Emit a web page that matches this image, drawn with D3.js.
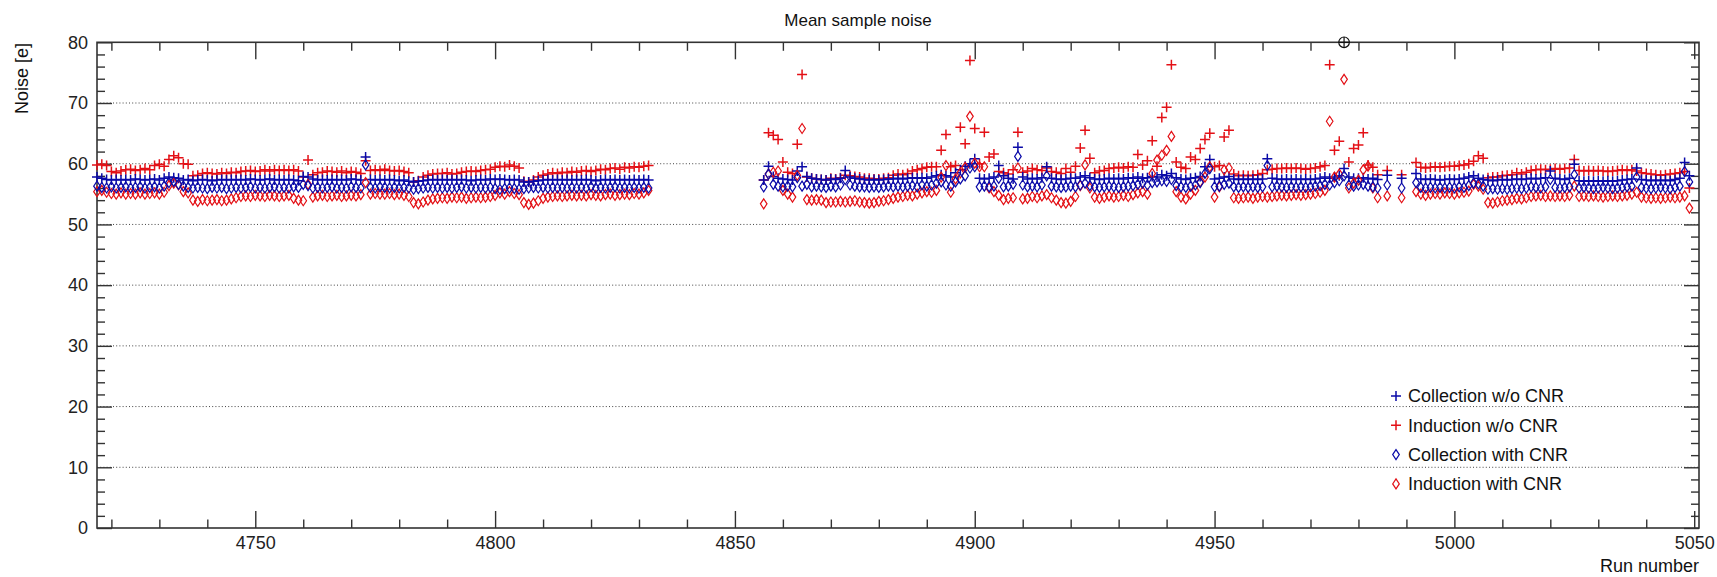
<!DOCTYPE html>
<html>
<head>
<meta charset="utf-8">
<script src="https://cdn.jsdelivr.net/npm/d3@7"></script>
<style>
  body { margin: 0; background: #fff; }
  svg { display: block; font-family: "Liberation Sans", Arial, sans-serif; }
</style>
</head>
<body>
<svg id="chart" width="1717" height="577"></svg>
<script>
// run blocks [first, last] that have data
var runBlocks = [[4717, 4832], [4856, 4984], [4986, 4986], [4989, 4989], [4992, 5049]];

var colNoCnr = [
  // 4717-4832
  57.8, 57.6, 57.4, 57.3, 57.4, 57.3, 57.4, 57.3, 57.5, 57.4,
  57.3, 57.4, 57.5, 57.3, 57.6, 57.8, 57.7, 57.6, 57.3, 57.4,
  57.2, 57.3, 57.4, 57.3, 57.2, 57.3, 57.4, 57.3, 57.4, 57.3,
  57.4, 57.3, 57.5, 57.4, 57.3, 57.4, 57.5, 57.3, 57.4, 57.3,
  57.4, 57.3, 57.2, 57.9, 57.8, 57.5, 57.3, 57.4, 57.3, 57.4,
  57.3, 57.4, 57.3, 57.5, 57.4, 57.3, 61.1, 57.4, 57.3, 57.4,
  57.3, 57.4, 57.3, 57.2, 57.3, 57.1, 57.0, 57.1, 57.2, 57.3,
  57.4, 57.3, 57.4, 57.3, 57.4, 57.3, 57.4, 57.3, 57.2, 57.3,
  57.4, 57.3, 57.5, 57.4, 57.5, 57.4, 57.3, 57.4, 57.3, 57.0,
  57.0, 57.1, 57.2, 57.3, 57.4, 57.3, 57.4, 57.3, 57.4, 57.3,
  57.4, 57.3, 57.4, 57.3, 57.2, 57.3, 57.4, 57.3, 57.4, 57.3,
  57.4, 57.3, 57.4, 57.3, 57.4, 57.3,
  // 4856-4984
  57.3, 59.6, 57.9, 57.6, 57.5, 57.4, 57.3, 58.8, 59.5, 57.9,
  57.6, 57.5, 57.4, 57.3, 57.5, 57.4, 57.6, 58.9, 57.8, 57.6,
  57.5, 57.4, 57.3, 57.4, 57.3, 57.4, 57.5, 57.5, 57.6, 57.5,
  57.6, 57.7, 57.6, 57.7, 57.6, 57.8, 58.0, 58.2, 58.0, 57.8,
  58.5, 59.0, 59.6, 60.0, 60.8, 57.6, 57.5, 57.6, 57.8, 59.7,
  58.0, 57.6, 57.5, 62.7, 57.8, 57.5, 57.6, 57.5, 57.7, 59.5,
  57.6, 57.5, 57.4, 57.5, 57.6, 57.6, 57.8, 58.0, 57.7, 57.5,
  57.4, 57.5, 57.6, 57.5, 57.6, 57.5, 57.7, 57.6, 57.8, 57.6,
  57.7, 57.9, 57.8, 58.2, 58.0, 58.4, 57.7, 57.5, 57.4, 57.6,
  57.7, 57.9, 59.5, 60.7, 57.5, 57.6, 57.8, 57.9, 57.5, 57.4,
  57.5, 57.4, 57.5, 57.4, 57.5, 60.8, 57.6, 57.5, 57.4, 57.5,
  57.4, 57.5, 57.4, 57.5, 57.4, 57.5, 57.6, 57.8, 57.6, 57.8,
  58.0, 59.2, 57.8, 57.6, 57.6, 57.7, 57.5, 57.6, 57.4,
  // 4986, 4989
  58.1, 57.6,
  // 4992-5049
  58.4, 57.5, 57.4, 57.5, 57.4, 57.3, 57.4, 57.5, 57.4, 57.5,
  57.6, 57.8, 58.0, 57.6, 57.4, 57.3, 57.2, 57.3, 57.4, 57.3,
  57.4, 57.5, 57.4, 57.5, 57.6, 57.5, 57.6, 57.7, 58.8, 57.6,
  57.5, 57.4, 57.6, 59.9, 57.2, 57.1, 57.2, 57.1, 57.2, 57.1,
  57.2, 57.1, 57.2, 57.3, 57.4, 57.5, 59.3, 57.4, 57.3, 57.2,
  57.3, 57.2, 57.3, 57.2, 57.4, 57.6, 60.2, 58.0
];

var indNoCnr = [
  // 4717-4832
  59.8, 59.9, 59.7, 58.7, 58.5, 58.8, 59.0, 59.1, 58.9, 59.0,
  59.2, 59.0, 59.7, 59.9, 59.6, 60.7, 61.3, 61.0, 60.0, 59.9,
  58.0, 58.1, 58.4, 58.5, 58.4, 58.3, 58.5, 58.4, 58.6, 58.5,
  58.7, 58.8, 58.9, 58.7, 58.8, 59.0, 58.8, 59.0, 58.9, 59.0,
  58.9, 59.0, 58.8, 57.8, 60.6, 58.2, 58.5, 58.6, 58.8, 58.7,
  58.6, 58.8, 58.5, 58.7, 58.6, 58.4, 60.5, 58.9, 59.0, 58.9,
  59.1, 58.9, 58.8, 58.9, 58.7, 58.5, 57.0, 57.2, 57.8, 58.1,
  58.3, 58.4, 58.4, 58.5, 58.3, 58.4, 58.6, 58.7, 58.8, 58.7,
  58.9, 59.0, 59.1, 59.4, 59.6, 59.5, 59.8, 59.6, 59.3, 57.1,
  57.0, 57.3, 57.8, 58.1, 58.3, 58.5, 58.4, 58.6, 58.5, 58.7,
  58.6, 58.8, 58.9, 58.7, 58.9, 59.1, 59.0, 59.2, 59.3, 59.1,
  59.4, 59.3, 59.5, 59.4, 59.6, 59.7,
  // 4856-4984 (4977 is above the frame)
  57.3, 65.1, 64.7, 64.0, 60.3, 58.6, 58.4, 63.2, 74.7, 57.8,
  57.6, 57.5, 57.4, 57.3, 57.6, 57.5, 57.7, 58.1, 58.0, 57.9,
  57.8, 57.6, 57.6, 57.5, 57.5, 57.6, 57.7, 58.1, 58.3, 58.2,
  58.4, 58.8, 59.0, 59.2, 59.4, 59.5, 59.5, 62.2, 64.8, 59.5,
  59.7, 66.0, 63.3, 77.0, 65.8, 60.0, 65.2, 61.1, 61.6, 58.7,
  58.5, 58.3, 59.0, 65.2, 58.6, 58.8, 59.2, 59.0, 58.9, 59.3,
  58.7, 58.6, 58.4, 59.2, 58.6, 59.6, 62.6, 65.5, 60.9, 58.5,
  58.8, 58.9, 59.2, 59.3, 59.4, 59.3, 59.5, 59.4, 61.5, 59.8,
  60.5, 63.8, 59.6, 67.6, 69.3, 76.3, 60.3, 59.4, 59.2, 61.1,
  60.7, 62.5, 64.0, 65.0, 59.5, 59.7, 64.4, 65.5, 58.3, 58.0,
  58.1, 58.0, 58.1, 58.2, 58.4, 59.0, 59.1, 59.2, 59.2, 59.3,
  59.2, 59.3, 59.2, 59.1, 59.2, 59.3, 59.5, 59.7, 76.3, 62.2,
  63.7, null, 60.3, 62.5, 63.1, 65.1, 59.8, 59.4, 58.2,
  // 4986, 4989
  58.9, 58.2,
  // 4992-5049
  60.2, 59.4, 59.3, 59.4, 59.5, 59.4, 59.5, 59.6, 59.6, 59.7,
  59.8, 60.0, 60.4, 61.3, 60.9, 57.7, 57.8, 57.8, 58.0, 58.1,
  58.2, 58.5, 58.3, 58.6, 58.9, 59.0, 59.1, 59.0, 59.1, 59.2,
  59.1, 59.2, 59.3, 60.7, 58.9, 58.8, 58.9, 58.8, 58.9, 58.8,
  58.7, 58.8, 58.9, 59.0, 58.9, 59.0, 58.8, 58.5, 58.4, 58.3,
  58.2, 58.1, 58.2, 58.3, 58.4, 58.5, 58.7, 56.0
];

var colCnr = [
  // 4717-4832
  56.3, 56.1, 56.0, 56.2, 56.0, 56.1, 56.2, 56.0, 56.1, 56.2,
  56.0, 56.1, 56.2, 56.0, 56.3, 56.9, 57.1, 56.6, 56.3, 56.1,
  56.0, 56.1, 56.0, 55.9, 56.1, 56.0, 56.1, 55.9, 56.0, 56.1,
  56.0, 56.1, 56.2, 56.0, 56.1, 56.0, 56.1, 56.2, 56.0, 56.1,
  56.0, 56.2, 56.1, 56.6, 56.4, 56.0, 56.1, 56.0, 56.1, 56.2,
  56.0, 56.1, 56.0, 56.2, 56.1, 56.0, 59.8, 56.1, 56.0, 56.2,
  56.1, 56.0, 56.1, 56.0, 56.1, 56.0, 55.8, 55.9, 56.0, 56.1,
  56.0, 56.1, 56.0, 56.1, 56.0, 56.1, 56.2, 56.0, 56.1, 56.0,
  56.1, 56.0, 56.1, 55.9, 55.8, 55.9, 56.0, 55.9, 55.8, 55.9,
  56.0, 56.1, 56.0, 56.1, 56.0, 56.1, 56.0, 56.1, 56.0, 56.1,
  56.0, 56.1, 56.0, 56.2, 56.0, 56.1, 56.0, 56.1, 56.2, 56.0,
  56.1, 56.0, 56.1, 56.0, 56.1, 56.0,
  // 4856-4984
  56.2, 58.3, 56.6, 56.3, 56.2, 56.3, 56.2, 57.7, 56.3, 56.6,
  56.2, 56.3, 56.2, 56.1, 56.3, 56.2, 56.5, 57.4, 56.5, 56.3,
  56.2, 56.2, 56.1, 56.2, 56.1, 56.2, 56.3, 56.2, 56.3, 56.2,
  56.3, 56.4, 56.2, 56.5, 56.3, 56.5, 56.8, 57.0, 56.5, 56.3,
  57.0, 57.5, 58.0, 59.3, 59.5, 56.2, 56.3, 56.2, 56.3, 57.6,
  56.2, 56.3, 56.6, 61.2, 56.5, 56.2, 56.3, 56.2, 56.5, 58.0,
  56.3, 56.2, 56.1, 56.2, 56.3, 56.2, 56.5, 56.8, 56.4, 56.2,
  56.1, 56.2, 56.3, 56.2, 56.1, 56.2, 56.3, 56.4, 56.6, 56.8,
  56.5, 56.9, 57.0, 57.2, 57.1, 57.4, 56.4, 56.2, 56.1, 56.3,
  56.5, 56.9, 58.4, 59.2, 56.2, 56.3, 56.6, 56.8, 56.2, 56.1,
  56.2, 56.1, 56.2, 56.1, 56.2, 59.7, 56.2, 56.3, 56.2, 56.1,
  56.2, 56.1, 56.2, 56.1, 56.2, 56.3, 56.4, 56.6, 56.5, 56.9,
  57.2, 58.0, 56.5, 56.3, 56.5, 56.6, 56.3, 56.2, 56.0,
  // 4986, 4989
  56.5, 56.0,
  // 4992-5049
  56.9, 56.1, 56.0, 56.1, 56.0, 56.1, 56.0, 56.1, 56.0, 56.2,
  56.1, 56.4, 56.8, 56.7, 56.3, 55.8, 55.9, 55.8, 55.9, 55.8,
  55.9, 56.0, 55.9, 56.0, 56.2, 56.1, 56.0, 56.2, 57.4, 56.1,
  56.0, 56.1, 56.2, 58.2, 56.0, 56.1, 56.0, 55.9, 56.0, 56.1,
  56.0, 55.9, 56.0, 56.1, 56.2, 56.3, 57.8, 56.1, 56.0, 55.9,
  56.0, 56.1, 56.0, 55.9, 56.1, 56.3, 58.7, 57.0
];

var indCnr = [
  // 4717-4832
  55.4, 55.6, 55.3, 55.1, 55.0, 55.2, 55.0, 55.1, 55.0, 55.2,
  55.0, 55.1, 55.2, 55.0, 55.3, 56.4, 56.8, 56.5, 55.4, 55.2,
  54.0, 53.8, 54.1, 53.9, 54.0, 54.1, 53.9, 54.0, 54.2, 54.4,
  54.6, 54.7, 54.6, 54.8, 54.7, 54.6, 54.8, 54.7, 54.6, 54.7,
  54.8, 54.3, 54.0, 53.9, 56.6, 54.5, 54.7, 54.8, 54.6, 54.7,
  54.8, 54.6, 54.7, 54.8, 54.7, 54.9, 56.9, 55.0, 55.1, 55.0,
  55.0, 55.1, 54.9, 55.0, 54.8, 54.6, 53.6, 53.4, 53.7, 54.0,
  54.2, 54.3, 54.4, 54.3, 54.5, 54.4, 54.5, 54.3, 54.4, 54.5,
  54.4, 54.5, 54.6, 54.8, 55.2, 55.0, 55.4, 55.1, 54.9, 53.6,
  53.3, 53.5, 53.9, 54.3, 54.5, 54.6, 54.7, 54.6, 54.7, 54.8,
  54.7, 54.8, 54.7, 54.9, 54.8, 54.7, 54.9, 55.0, 54.8, 54.9,
  55.0, 54.9, 55.1, 55.0, 55.2, 55.6,
  // 4856-4984
  53.4, 58.3, 58.6, 58.8, 55.6, 55.0, 54.5, 58.1, 65.8, 54.1,
  54.0, 54.1, 54.0, 53.6, 53.7, 53.7, 53.8, 53.7, 53.8, 53.9,
  53.7, 53.6, 53.5, 53.6, 53.8, 53.9, 54.1, 54.3, 54.5, 54.6,
  54.8, 54.7, 55.0, 55.2, 55.4, 55.3, 55.6, 57.8, 59.7, 55.3,
  57.5, 58.5, 59.4, 67.8, 60.1, 59.5, 59.5, 56.0, 55.4, 54.8,
  54.1, 54.3, 54.4, 59.3, 54.2, 54.3, 54.6, 54.4, 54.7, 54.9,
  54.4, 54.0, 53.6, 53.5, 53.8, 54.6, 56.4, 59.8, 56.0, 54.5,
  54.3, 54.5, 54.7, 54.5, 54.6, 54.8, 54.6, 54.9, 55.2, 55.4,
  55.0, 58.4, 60.6, 61.4, 62.2, 64.5, 55.4, 54.5, 54.2, 55.0,
  55.6, 57.0, 57.8, 59.5, 54.5, 56.2, 59.0, 59.3, 54.4, 54.3,
  54.4, 54.5, 54.3, 54.5, 54.6, 54.5, 54.6, 54.7, 54.8, 54.7,
  54.8, 54.9, 54.8, 54.9, 55.0, 55.1, 55.3, 55.6, 67.0, 57.8,
  58.3, 73.9, 56.0, 56.8, 57.3, 59.0, 59.6, 56.0, 54.4,
  // 4986, 4989
  54.7, 54.4,
  // 4992-5049
  55.4, 55.0, 54.8, 55.0, 55.1, 55.0, 55.2, 55.1, 55.0, 55.2,
  55.3, 55.5, 56.6, 56.3, 55.8, 53.6, 53.5, 53.7, 53.9, 54.0,
  54.1, 54.3, 54.2, 54.4, 54.6, 54.7, 54.8, 54.6, 54.7, 54.6,
  54.7, 54.6, 54.8, 56.3, 54.6, 54.7, 54.6, 54.7, 54.6, 54.5,
  54.6, 54.7, 54.6, 54.7, 54.8, 55.0, 55.3, 54.5, 54.4, 54.3,
  54.4, 54.3, 54.4, 54.5, 54.4, 54.5, 54.7, 52.7
];

// point sitting on the top edge of the frame
var overflowRuns = [4977];
var overflowValues = [80];

var xTickValues = [4750, 4800, 4850, 4900, 4950, 5000, 5050];
var yTickValues = [0, 10, 20, 30, 40, 50, 60, 70, 80];
var gridValues = [10, 20, 30, 40, 50, 60, 70];

var seriesNames = ["Collection w/o CNR", "Induction w/o CNR", "Collection with CNR", "Induction with CNR"];

var BLUE = "#0a0aa8";
var RED = "#e31016";
var FONT = 18;

var svg = d3.select("#chart");
var margin = {top: 42.3, right: 18, bottom: 49, left: 97};
var width = 1717, height = 577;
var innerWidth = width - margin.left - margin.right;
var innerHeight = height - margin.top - margin.bottom;

var runs = [];
runBlocks.forEach(function(b) { runs = runs.concat(d3.range(b[0], b[1] + 1)); });

var x = d3.scaleLinear().domain([4717, 5051]).range([0, innerWidth]);
var y = d3.scaleLinear().domain([0, 80]).range([innerHeight, 0]);

var g = svg.append("g")
  .attr("transform", "translate(" + margin.left + "," + margin.top + ")");

svg.append("defs").append("clipPath").attr("id", "clip")
  .append("rect").attr("x", -6).attr("y", -6)
  .attr("width", innerWidth + 12).attr("height", innerHeight + 6);

// dotted grid
g.selectAll(".grid").data(gridValues).enter().append("line")
  .attr("class", "grid")
  .attr("x1", 0).attr("x2", innerWidth)
  .attr("y1", function(d) { return y(d); })
  .attr("y2", function(d) { return y(d); })
  .attr("stroke", "#444")
  .attr("stroke-width", 1)
  .attr("stroke-dasharray", "1,2.2");

// axes: major ticks long, minor short, mirrored on opposite side
function styleAxis(sel) {
  sel.select(".domain").remove();
  sel.selectAll("line").attr("stroke", "#333").attr("stroke-width", 1.4);
  sel.selectAll("text").attr("font-size", FONT).attr("fill", "#222")
    .attr("font-family", "Liberation Sans, Arial, sans-serif");
}

var xMinor = d3.range(4720, 5051, 10).filter(function(v) { return v % 50 !== 0; });
var yMinor = d3.range(0, 81, 2).filter(function(v) { return v % 10 !== 0; });

g.append("g").attr("transform", "translate(0," + innerHeight + ")")
  .call(d3.axisTop(x).tickValues(xTickValues).tickSize(17).tickFormat(""))
  .call(styleAxis);
g.append("g").attr("transform", "translate(0," + innerHeight + ")")
  .call(d3.axisTop(x).tickValues(xMinor).tickSize(8.5).tickFormat(""))
  .call(styleAxis);
g.append("g").attr("transform", "translate(0," + innerHeight + ")")
  .call(d3.axisBottom(x).tickValues(xTickValues).tickSize(0).tickPadding(8).tickFormat(d3.format("d")))
  .call(styleAxis);

g.append("g")
  .call(d3.axisBottom(x).tickValues(xTickValues).tickSize(17).tickFormat(""))
  .call(styleAxis);
g.append("g")
  .call(d3.axisBottom(x).tickValues(xMinor).tickSize(8.5).tickFormat(""))
  .call(styleAxis);

g.append("g")
  .call(d3.axisRight(y).tickValues(yTickValues).tickSize(15).tickFormat(""))
  .call(styleAxis);
g.append("g")
  .call(d3.axisRight(y).tickValues(yMinor).tickSize(8).tickFormat(""))
  .call(styleAxis);
g.append("g")
  .call(d3.axisLeft(y).tickValues(yTickValues).tickSize(0).tickPadding(9))
  .call(styleAxis);

g.append("g").attr("transform", "translate(" + innerWidth + ",0)")
  .call(d3.axisLeft(y).tickValues(yTickValues).tickSize(15).tickFormat(""))
  .call(styleAxis);
g.append("g").attr("transform", "translate(" + innerWidth + ",0)")
  .call(d3.axisLeft(y).tickValues(yMinor).tickSize(8).tickFormat(""))
  .call(styleAxis);

// frame
g.append("rect")
  .attr("width", innerWidth).attr("height", innerHeight)
  .attr("fill", "none").attr("stroke", "#333").attr("stroke-width", 1.6);

var plusPath = "M-5,0H5M0,-5V5";
var diamondPath = "M0,-5L3.3,0L0,5L-3.3,0Z";

function drawSeries(values, path, color, sw) {
  var pts = runs.map(function(r, i) { return {run: r, v: values[i]}; })
    .filter(function(d) { return d.v != null && d.v <= 80; });
  g.append("g").attr("clip-path", "url(#clip)")
    .selectAll("path").data(pts).enter().append("path")
    .attr("d", path)
    .attr("transform", function(d) { return "translate(" + x(d.run) + "," + y(d.v) + ")"; })
    .attr("fill", "none")
    .attr("stroke", color)
    .attr("stroke-width", sw);
}

drawSeries(indNoCnr, plusPath, RED, 1.5);
drawSeries(colNoCnr, plusPath, BLUE, 1.5);
drawSeries(indCnr, diamondPath, RED, 1.2);
drawSeries(colCnr, diamondPath, BLUE, 1.2);

// circled plus on the top edge
var ov = g.append("g").selectAll("g").data(overflowRuns).enter().append("g")
  .attr("transform", function(d, i) { return "translate(" + x(d) + "," + y(overflowValues[i]) + ")"; });
ov.append("circle").attr("r", 5.3).attr("fill", "none").attr("stroke", "#111").attr("stroke-width", 1.2);
ov.append("path").attr("d", "M-5.3,0H5.3M0,-5.3V5.3").attr("stroke", "#111").attr("stroke-width", 1.2);

// legend
var legendItems = [
  {name: seriesNames[0], path: plusPath, color: BLUE, sw: 1.5},
  {name: seriesNames[1], path: plusPath, color: RED, sw: 1.5},
  {name: seriesNames[2], path: diamondPath, color: BLUE, sw: 1.2},
  {name: seriesNames[3], path: diamondPath, color: RED, sw: 1.2}
];
var legend = svg.append("g").attr("transform", "translate(1396,396)");
var rows = legend.selectAll("g").data(legendItems).enter().append("g")
  .attr("transform", function(d, i) { return "translate(0," + (i * 29.3) + ")"; });
rows.append("path")
  .attr("d", function(d) { return d.path; })
  .attr("fill", "none")
  .attr("stroke", function(d) { return d.color; })
  .attr("stroke-width", function(d) { return d.sw; });
rows.append("text")
  .attr("x", 12).attr("dy", "0.35em")
  .attr("font-size", FONT).attr("fill", "#111")
  .text(function(d) { return d.name; });

// titles
svg.append("text")
  .attr("x", 858).attr("y", 26)
  .attr("font-size", 17).attr("fill", "#111")
  .style("text-anchor", "middle")
  .text("Mean sample noise");

svg.append("text")
  .attr("transform", "translate(28,43) rotate(-90)")
  .attr("font-size", FONT).attr("fill", "#111")
  .style("text-anchor", "end")
  .text("Noise [e]");

svg.append("text")
  .attr("x", margin.left + innerWidth).attr("y", 572)
  .attr("font-size", FONT).attr("fill", "#111")
  .style("text-anchor", "end")
  .text("Run number");
</script>
</body>
</html>
